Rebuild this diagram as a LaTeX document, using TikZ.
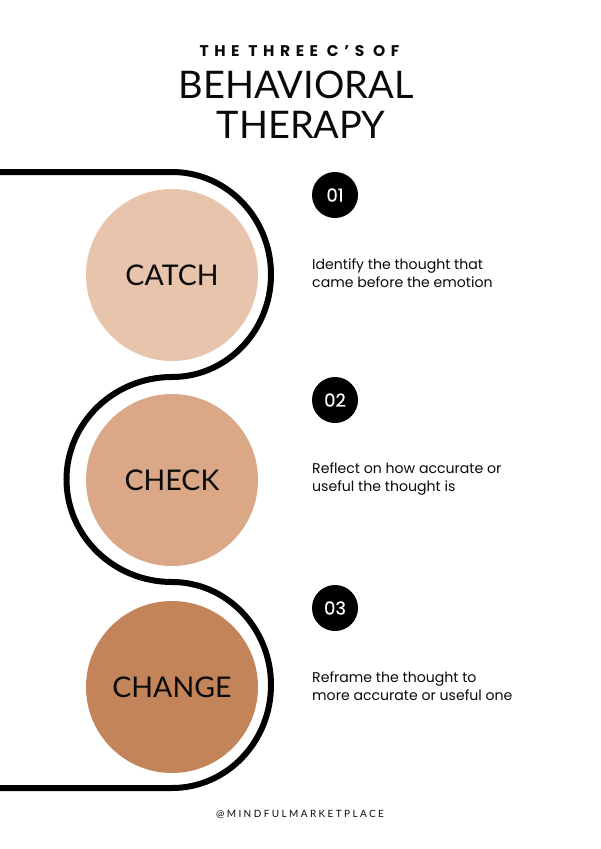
\documentclass[tikz,border=0pt]{standalone}
\usepackage{fontspec}
\setmainfont{Poppins}
\newfontfamily\titlefont{Lato}
\newfontfamily\kickerfont[LetterSpace=36]{Poppins}
\newfontfamily\numfont[FakeBold=0.3]{Poppins}
\newfontfamily\handlefont[LetterSpace=24]{Lato}
\definecolor{catchcol}{HTML}{E9C4AD}
\definecolor{checkcol}{HTML}{DAA886}
\definecolor{changecol}{HTML}{C4845A}
\definecolor{inkcol}{HTML}{0A0A0A}
\tikzset{
  bigdot/.style={circle,minimum size=172pt,inner sep=0pt,text=inkcol,font=\titlefont\fontsize{28.5}{30}\selectfont},
  numdot/.style={circle,fill=black,minimum size=46pt,inner sep=0pt,text=white,font=\numfont\fontsize{18}{20}\selectfont},
  blurb/.style={anchor=west,align=left,inner sep=0pt,text=inkcol,font=\fontsize{14.1}{18}\selectfont},
  headline/.style={text=inkcol,inner sep=0pt,font=\titlefont\fontsize{38}{39}\selectfont},
  snake/.style={line width=6pt,black}
}
\begin{document}
\begin{tikzpicture}[x=1pt,y=-1pt]
\useasboundingbox (0,0) rectangle (600,849);
\node [text=inkcol,font=\kickerfont\bfseries\fontsize{15.5}{18}\selectfont] (kicker) at (299.5,51) {THE THREE C’S OF};
\node [headline] (title) at (296,85) {BEHAVIORAL};
\node [headline] (titleB) at (301,124.5) {THERAPY};
% the line behind the circles
\coordinate (start) at (0,172);
\coordinate (bendA) at (172,172);
\coordinate (stop) at (0,788);
\draw [snake] (start) -- (bendA)
  arc [start angle=-90,end angle=90,x radius=99,y radius=102.5] coordinate (bendB)
  arc [start angle=-90,end angle=-270,x radius=105.5,y radius=102.5] coordinate (bendC)
  arc [start angle=-90,end angle=90,x radius=99,y radius=103] coordinate (bendD)
  -- (stop);
\node [bigdot,fill=catchcol] (catch) at (172,275) {CATCH};
\node [bigdot,fill=checkcol] (check) at (172,480) {CHECK};
\node [bigdot,fill=changecol] (change) at (172,687) {CHANGE};
\node [numdot] (one) at (335,195) {01};
\node [numdot] (two) at (335,400) {02};
\node [numdot] (three) at (335,608) {03};
\node [blurb] (oneText) at (312,273) {Identify the thought that\\came before the emotion};
\node [blurb] (twoText) at (312,479) {Reflect on how accurate or\\useful the thought is};
\node [blurb] (threeText) at (312,686) {Reframe the thought to\\more accurate or useful one};
\node [text=inkcol,font=\handlefont\fontsize{10}{12}\selectfont] (handle) at (300,814.5) {@MINDFULMARKETPLACE};
\end{tikzpicture}
\end{document}
